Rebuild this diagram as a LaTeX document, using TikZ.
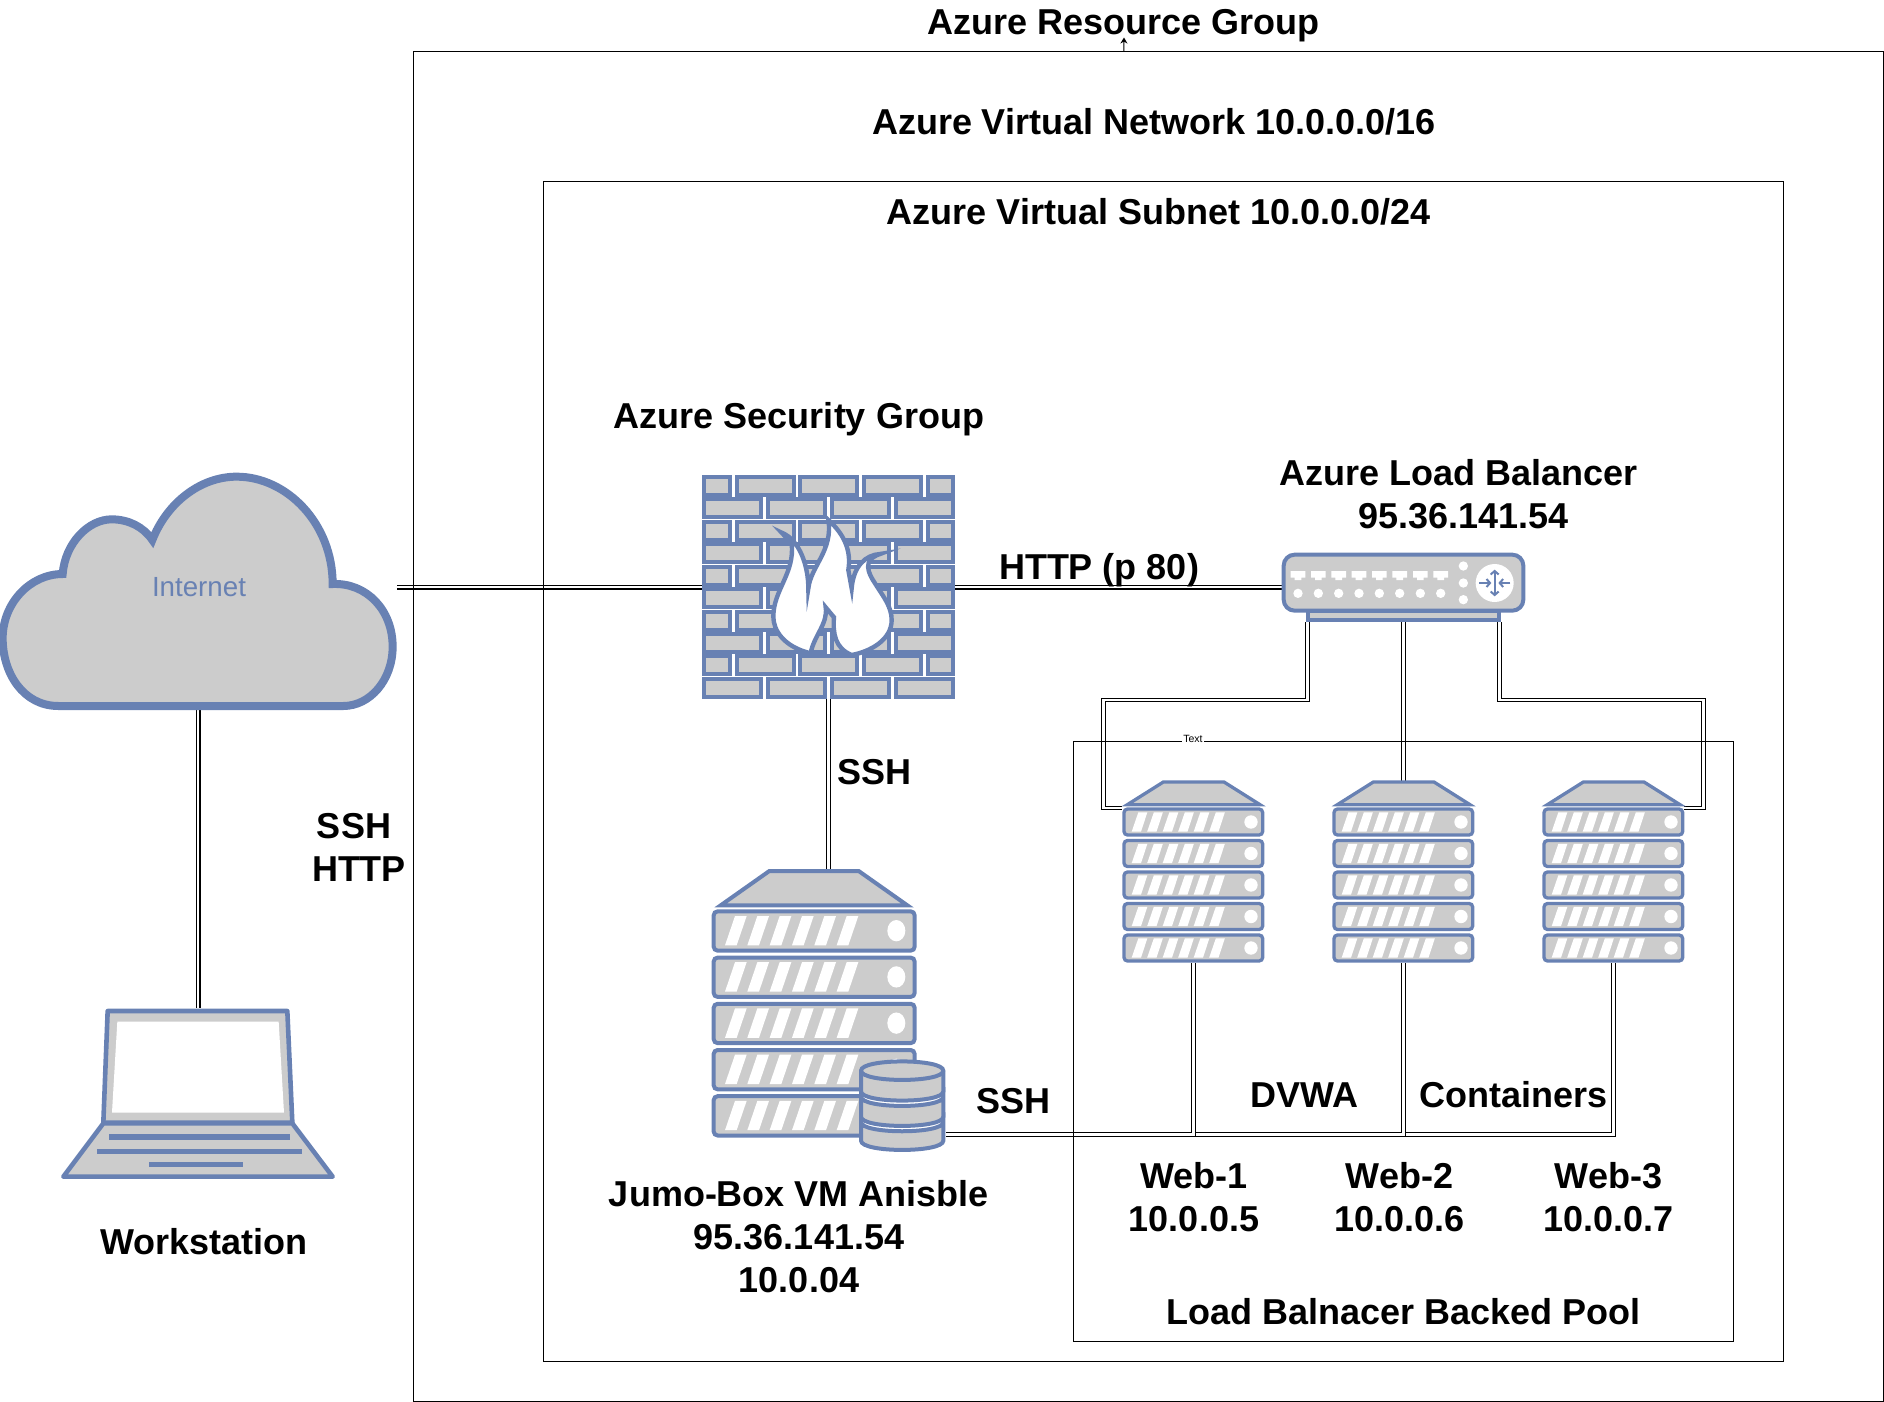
\documentclass[tikz,border=0pt]{standalone}
\usepackage{fontspec}
\setmainfont{Liberation Sans}
\usetikzlibrary{arrows.meta}
\definecolor{iconblue}{HTML}{6881B3}
\definecolor{icongray}{HTML}{CCCCCC}
\tikzset{
  hole/.style={inner sep=0pt,outer sep=0pt,minimum width=#1},
  iconline/.style={draw=iconblue,fill=icongray,line width=4pt,line join=miter},
  link/.style={double,line width=1.2pt,double distance=2.5pt,line join=miter},
  frame/.style={draw=black,line width=1.2pt,fill=none,inner sep=0pt,outer sep=0pt,anchor=north west},
  lbl/.style={font=\bfseries\fontsize{36}{43.2}\selectfont,align=center,inner sep=0pt,text=black},
  zoomed/.style={shift={#1},scale=0.33333},
}
\newcommand{\webserver}[1]{%
  \begin{scope}[zoomed={(1080+#1,720)}]
    \draw[iconline,line width=3.3pt] (250,186)--(432,186)--(540,254)--(142,254)--cycle;
    \foreach \yy in {262,356.5,451,545.5,640}{
      \draw[iconline,line width=3.3pt,rounded corners=3.5pt] (132,\yy+5) rectangle (548,\yy+83);
      \foreach \i in {0,...,5}{
        \fill[white] (155+46.5*\i,\yy+73)--(183+46.5*\i,\yy+73)--(202+46.5*\i,\yy+15)--(175+46.5*\i,\yy+15)--cycle;
      }
      \fill[white] (513,\yy+44) circle[radius=20pt];
    }
  \end{scope}}
\begin{document}
\begin{tikzpicture}[x=1pt,y=-1pt]
\useasboundingbox (0,0) rectangle (1884,1402);
% anchors of the icons
\node[hole=397pt,minimum height=238pt] (cloud) at (198.5,591) {};
\node[hole=253.6pt,minimum height=224.3pt] (fw) at (828.5,587.2) {};
\node[hole=243.6pt,minimum height=69pt] (lb) at (1403.5,587.5) {};
\node[hole=205pt,minimum height=268pt] (jump) at (814.2,1003) {};
\node[hole=86.7pt,minimum height=94pt] (db) at (902.3,1106) {};
\node[hole=275pt,minimum height=171pt] (laptop) at (198.2,1093.5) {};
\node[hole=142pt,minimum height=181pt] (web1) at (1193.3,872.2) {};
\node[hole=142pt,minimum height=181pt] (web2) at (1403.3,872.2) {};
\node[hole=142pt,minimum height=181pt] (web3) at (1613.3,872.2) {};
\coordinate (bus) at (0,1134.7);
\coordinate (lbdrop) at (0,700);
\coordinate (leftrun) at (1103.3,0);
\coordinate (rightrun) at (1703.7,0);
% connectors
\draw[link] (cloud.east |- fw.west) -- (fw.west);
\draw[link] (fw.east) -- (fw.east -| lb.west);
\draw[link] (fw.south) -- (fw.south |- jump.north);
\draw[link] (cloud.south -| laptop.north) -- (laptop.north);
\draw[link] ([xshift=-95.8pt]lb.south) |- (lbdrop -| leftrun) |- ([yshift=-26.3pt]web1.north west);
\draw[link] (lb.south) -- (lb.south |- web2.north);
\draw[link] ([xshift=95.8pt]lb.south) |- (lbdrop -| rightrun) |- ([yshift=-26.3pt]web3.north east);
\draw[link] (web3.south) |- (bus -| db.east);
\draw[link] (web2.south) |- (bus -| db.east);
\draw[link] (web1.south) |- (bus -| db.east);
% frames
\node[frame,minimum width=1470pt,minimum height=1350pt] (rg) at (413.5,51.5) {};
\node[frame,minimum width=1240pt,minimum height=1180pt] (subnet) at (543.5,181.5) {};
\node[frame,minimum width=660pt,minimum height=600pt] (pool) at (1073.5,741.5) {};
\node[font=\fontsize{10.5}{12}\selectfont,fill=white,inner xsep=1pt,inner ysep=0pt] (pooltag) at (1193,739) {Text};
% cloud
\begin{scope}[zoomed={(0,460)}]
  \draw[iconline,line width=8pt] (175,738) .. controls (70,738) and (8,640) .. (8,535) .. controls (8,430) and (90,342) .. (188,342) .. controls (195,250) and (265,178) .. (335,178) .. controls (385,178) and (430,200) .. (457,240) .. controls (500,130) and (600,50) .. (710,50) .. controls (860,50) and (998,190) .. (998,372) .. controls (1100,368) and (1178,450) .. (1178,560) .. controls (1178,660) and (1110,738) .. (1030,738) -- cycle;
\end{scope}
\node[font=\fontsize{27.7}{32}\selectfont,text=iconblue,inner sep=0pt] (inet) at (199,587) {Internet};
% firewall
\begin{scope}[zoomed={(680,460)}]
  \foreach \r in {0,2,4,6,8}{
    \pgfmathsetmacro{\ya}{51+67.3*\r}
    \pgfmathsetmacro{\yb}{\ya+54}
    \foreach \xa/\xb in {71/149,171/342,361/532,553/724,743/820}{
      \draw[iconline] (\xa,\ya) rectangle (\xb,\yb);
    }
    \pgfmathsetmacro{\yc}{\ya+67.3}
    \pgfmathsetmacro{\yd}{\yc+54}
    \foreach \xa/\xb in {71/242,264/436,456/628,648/820}{
      \draw[iconline] (\xa,\yc) rectangle (\xb,\yd);
    }
  }
  \draw[draw=iconblue,fill=white,line width=4.4pt,line join=miter,miter limit=12] (392,580)
    .. controls (310,560) and (280,510) .. (280,470)
    .. controls (280,390) and (345,340) .. (335,250)
    -- (305,218)
    .. controls (360,240) and (385,320) .. (385,385)
    .. controls (392,320) and (460,270) .. (445,180)
    .. controls (490,220) and (515,270) .. (505,330)
    -- (515,385)
    .. controls (520,320) and (555,285) .. (600,282)
    .. controls (545,300) and (565,340) .. (585,370)
    .. controls (610,410) and (635,440) .. (635,480)
    .. controls (635,540) and (570,575) .. (515,585)
    .. controls (465,565) and (458,520) .. (462,472)
    -- (437,442)
    .. controls (445,490) and (400,530) .. (392,580) -- cycle;
\end{scope}
% load balancer
\begin{scope}[zoomed={(1260,540)}]
  \draw[iconline] (143,212) rectangle (718,240);
  \draw[iconline,rounded corners=11pt] (71,44) rectangle (790,212);
  \foreach \x in {114,175,236,297,358,419,481,542}{
    \fill[white] (\x-22,93)--(\x+22,93)--(\x+22,113)--(\x+10,113)--(\x+10,120)--(\x-10,120)--(\x-10,113)--(\x-22,113)--cycle;
    \fill[white] (\x,160) circle[radius=14pt];
  }
  \foreach \y in {78,129,179}{\fill[white] (610,\y) circle[radius=14pt];}
  \fill[white] (704,129) circle[radius=57pt];
  \draw[iconblue,line width=2pt,{Straight Barb[length=3.5pt,width=8pt]}-{Straight Barb[length=3.5pt,width=8pt]}] (704,89)--(704,169);
  \draw[iconblue,line width=2pt,-{Straight Barb[length=3.5pt,width=8pt]}] (658,129)--(694,129);
  \draw[iconblue,line width=2pt,-{Straight Barb[length=3.5pt,width=8pt]}] (751,129)--(715,129);
\end{scope}
% web servers
\webserver{0}
\webserver{210}
\webserver{420}
% jump box
\begin{scope}[zoomed={(690,860)}]
  \draw[iconline] (238,33)--(506,33)--(652,136)--(92,136)--cycle;
  \foreach \yy in {148,286.7,425.4,564,702.5}{
    \draw[iconline,rounded corners=4pt] (71,\yy+6) rectangle (674,\yy+124);
    \foreach \i in {0,...,5}{
      \fill[white] (105+67*\i,\yy+108)--(140+67*\i,\yy+108)--(170+67*\i,\yy+20)--(135+67*\i,\yy+20)--cycle;
    }
    \fill[white] (619,\yy+64) ellipse[x radius=27pt,y radius=32pt];
  }
  % database
  \fill[white] (513,632) -- (513,842) .. controls (513,879) and (760,879) .. (760,842) -- (760,632) -- cycle;
  \draw[iconline] (513,786) .. controls (513,823) and (760,823) .. (760,786) -- (760,842) .. controls (760,879) and (513,879) .. (513,842) -- cycle;
  \draw[iconline] (513,710) .. controls (513,747) and (760,747) .. (760,710) -- (760,770) .. controls (760,807) and (513,807) .. (513,770) -- cycle;
  \draw[iconline] (513,632) -- (513,694) .. controls (513,731) and (760,731) .. (760,694) -- (760,632) .. controls (760,595) and (513,595) .. (513,632) -- cycle;
  \draw[iconline,fill=none] (513,632) .. controls (513,669) and (760,669) .. (760,632);
\end{scope}
% laptop
\begin{scope}[zoomed={(40,990)}]
  \draw[iconline,line width=4.6pt,line join=round] (190,400)--(757,400)--(878,560)--(70,560)--cycle;
  \draw[iconline,line width=4.6pt,line join=round] (203,63)--(742,63)--(757,398)--(190,398)--cycle;
  \fill[white] (232,95)--(716,95)--(732,368)--(216,368)--cycle;
  \fill[iconblue] (208,433) rectangle (750,449);
  \fill[iconblue] (172,476) rectangle (787,492);
  \fill[iconblue] (327,515) rectangle (608,531);
\end{scope}
% texts
\node[lbl] (trg) at (1123.8,25.2) {Azure Resource Group};
\coordinate (rgtip) at (1124,37.5);
\draw[line width=1.1pt,-{Stealth[length=6pt,width=7pt]}] (trg.south |- rg.north) -- (rgtip);
\node[lbl] (tvn) at (1153.8,121.4) {Azure Virtual Network 10.0.0.0/16};
\node[lbl] (tsub) at (1158.6,211.6) {Azure Virtual Subnet 10.0.0.0/24};
\node[lbl] (tsec) at (799,419.6) {Azure Security Group};
\node[lbl] (tlb) at (1463.4,493.8) {Azure Load Balancer\kern9pt\\95.36.141.54};
\node[lbl] (thttp) at (1099,570.6) {HTTP (p 80)};
\node[lbl] (tssh1) at (874,771.6) {SSH};
\node[lbl] (tssh2) at (354,826.2) {SSH};
\node[lbl] (thttp2) at (359,868.7) {HTTP};
\node[lbl] (twork) at (204,1241.6) {Workstation};
\node[lbl] (tjump) at (799,1236.6) {Jumo-Box VM Anisble\\95.36.141.54\\10.0.04};
\node[lbl] (tssh3) at (1013.4,1101) {SSH};
\node[lbl] (tdvwa) at (1304.4,1095) {DVWA};
\node[lbl] (tcont) at (1513.4,1094.6) {Containers};
\node[lbl] (tw1) at (1194,1197) {Web-1\\10.0.0.5};
\node[lbl] (tw2) at (1399.5,1197) {Web-2\\10.0.0.6};
\node[lbl] (tw3) at (1608.6,1197) {Web-3\\10.0.0.7};
\node[lbl] (tpool) at (1403.6,1311.6) {Load Balnacer Backed Pool};
\end{tikzpicture}
\end{document}
